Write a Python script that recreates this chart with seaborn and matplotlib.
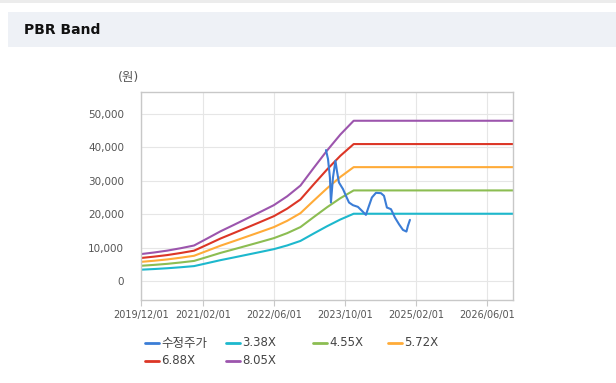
import matplotlib.pyplot as plt
import matplotlib.dates as mdates
from matplotlib.lines import Line2D
from matplotlib.patches import Rectangle
from matplotlib.ticker import FuncFormatter
import seaborn as sns
import pandas as pd

# PBR band values (won)
band_dates = ['2019-12-01', '2020-03-01', '2020-06-01', '2020-09-01', '2020-12-01',
              '2021-03-01', '2021-06-01', '2021-09-01', '2021-12-01', '2022-03-01',
              '2022-06-01', '2022-09-01', '2022-12-01', '2023-03-01', '2023-06-01',
              '2023-09-01', '2023-12-01', '2026-11-28']
band_338 = [3380, 3580, 3820, 4120, 4460, 5340, 6250, 7060, 7880, 8690,
            9530, 10650, 12000, 14200, 16390, 18420, 20140, 20140]
band_455 = [4550, 4820, 5140, 5550, 6010, 7190, 8420, 9510, 10600, 11690,
            12830, 14330, 16150, 19110, 22070, 24800, 27120, 27120]
band_572 = [5720, 6060, 6460, 6980, 7550, 9040, 10580, 11950, 13330, 14700,
            16130, 18020, 20310, 24020, 27740, 31170, 34090, 34090]
band_688 = [6880, 7290, 7770, 8390, 9080, 10870, 12730, 14380, 16030, 17680,
            19400, 21670, 24420, 28900, 33370, 37500, 41000, 41000]
band_805 = [8050, 8530, 9100, 9820, 10630, 12720, 14890, 16820, 18760, 20690,
            22700, 25360, 28580, 33810, 39040, 43870, 47980, 47980]

# adjusted share price
price_dates = ['2023-05-25', '2023-06-08', '2023-06-21', '2023-06-28', '2023-07-12',
               '2023-07-29', '2023-08-08', '2023-08-22', '2023-09-19', '2023-10-09',
               '2023-10-30', '2023-11-26', '2023-12-30', '2024-01-27', '2024-02-23',
               '2024-03-15', '2024-04-04', '2024-05-02', '2024-06-05', '2024-06-26',
               '2024-07-16', '2024-08-13', '2024-09-09', '2024-10-07', '2024-11-03',
               '2024-11-27', '2024-12-07', '2024-12-21']
price = [39200, 36500, 31000, 23500, 31000, 36000, 33000, 29500, 27500, 25500,
         23500, 22700, 22200, 21000, 19800, 22500, 25000, 26400, 26300, 25500,
         22000, 21500, 19000, 17000, 15300, 14800, 16500, 18300]

band_labels = ['3.38X', '4.55X', '5.72X', '6.88X', '8.05X']
band_colors = ['#1db8cd', '#8cbd52', '#ffab38', '#dc3626', '#9c55ad']
price_label = '수정주가'
price_color = '#3b7dd6'
tick_dates = ['2019-12-01', '2021-02-01', '2022-06-01', '2023-10-01', '2025-02-01', '2026-06-01']
y_ticks = [0, 10000, 20000, 30000, 40000, 50000]

bands = pd.DataFrame({'date': pd.to_datetime(band_dates),
                      '3.38X': band_338, '4.55X': band_455, '5.72X': band_572,
                      '6.88X': band_688, '8.05X': band_805})
bands = bands.melt(id_vars='date', var_name='series', value_name='value')
px = pd.DataFrame({'date': pd.to_datetime(price_dates), 'value': price})

sns.set_theme(style='whitegrid')
plt.rcParams['font.family'] = ['DejaVu Sans', 'Noto Sans CJK KR']

fig = plt.figure(figsize=(6.16, 3.83), dpi=100)
W, H = 616, 383

# header strip
fig.patches.append(Rectangle((8 / W, 1 - 47 / H), 608 / W, 35 / H, transform=fig.transFigure,
                             facecolor='#eef1f6', edgecolor='none', zorder=0))
fig.patches.append(Rectangle((0, 1 - 3 / H), 1, 3 / H, transform=fig.transFigure,
                             facecolor='#ececec', edgecolor='none', zorder=0))
fig.text(24 / W, 1 - 30 / H, 'PBR Band', fontsize=10, fontweight='bold', color='#111111', va='center')
fig.text(118 / W, 1 - 77 / H, '(원)', fontsize=9, color='#555555', va='center')

ax = fig.add_axes([140.7 / W, 1 - 300 / H, 372.3 / W, 208 / H])
sns.lineplot(data=bands, x='date', y='value', hue='series', hue_order=band_labels,
             palette=band_colors, estimator=None, linewidth=1.5, legend=False, ax=ax)
sns.lineplot(data=px, x='date', y='value', color=price_color, estimator=None,
             linewidth=1.5, ax=ax)

ax.set_xlim(pd.Timestamp('2019-12-01'), pd.Timestamp('2026-11-28'))
ax.set_ylim(-5690, 56590)
ax.set_xticks(pd.to_datetime(tick_dates))
ax.xaxis.set_major_formatter(mdates.DateFormatter('%Y/%m/%d'))
ax.set_yticks(y_ticks)
ax.yaxis.set_major_formatter(FuncFormatter(lambda v, p: f'{v:,.0f}'))
ax.set_xlabel('')
ax.set_ylabel('')
ax.grid(color='#e6e6e6', linewidth=0.8)
for s in ax.spines.values():
    s.set_color('#c8c8c8')
    s.set_linewidth(1)
ax.tick_params(axis='x', bottom=True, length=4, width=0.8, color='#c8c8c8',
               labelsize=7, labelcolor='#555555', pad=3)
ax.tick_params(axis='y', left=False, labelsize=7.5, labelcolor='#555555', pad=6)

# legend (laid out like the original web chart)
entries = [(145, 343, price_color, price_label), (226, 343, band_colors[0], band_labels[0]),
           (313, 343, band_colors[1], band_labels[1]), (388, 343, band_colors[2], band_labels[2]),
           (145, 361, band_colors[3], band_labels[3]), (226, 361, band_colors[4], band_labels[4])]
for x, y, c, t in entries:
    fig.add_artist(Line2D([x / W, (x + 14) / W], [1 - y / H, 1 - y / H], color=c,
                          linewidth=2, transform=fig.transFigure))
    fig.text((x + 16) / W, 1 - y / H, t, fontsize=9 if t == price_label else 8.5,
             color='#444444', va='center')

plt.savefig('out.png', dpi=100)
